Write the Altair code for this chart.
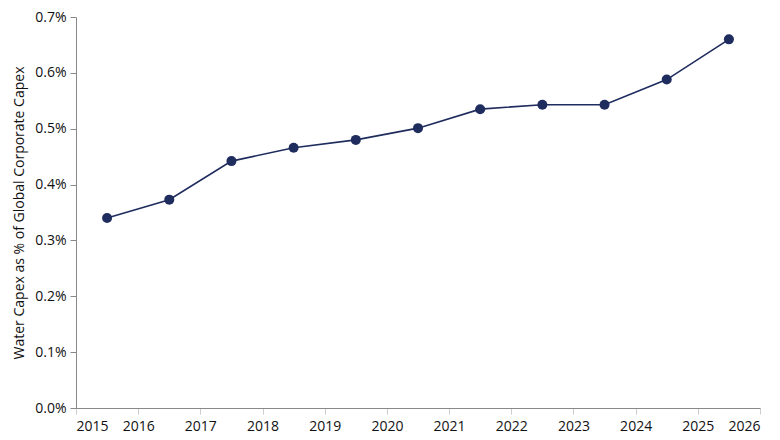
import altair as alt
import pandas as pd

years = [2015.5, 2016.5, 2017.5, 2018.5, 2019.5, 2020.5, 2021.5, 2022.5, 2023.5, 2024.5, 2025.5]
share = [0.00340, 0.00373, 0.00442, 0.00466, 0.00480, 0.00501, 0.00535, 0.00543, 0.00543, 0.00588, 0.00660]
x_ticks = list(range(2015, 2027))
y_ticks = [0, 0.001, 0.002, 0.003, 0.004, 0.005, 0.006, 0.007]

df = pd.DataFrame({"year": years, "share": share})

color = "#1f2c5e"
font = "Open Sans"

x = alt.X("year:Q",
          scale=alt.Scale(domain=[2015, 2026], nice=False, zero=False),
          axis=alt.Axis(values=x_ticks, format="d", title=None, grid=False,
                        labelFontSize=14, labelColor="#111111", labelFont=font,
                        domainColor="#888888", tickColor="#cccccc", tickSize=6,
                        labelPadding=5))
y = alt.Y("share:Q",
          scale=alt.Scale(domain=[0, 0.007], nice=False),
          axis=alt.Axis(values=y_ticks, format=".1%", grid=False,
                        title="Water Capex as % of Global Corporate Capex",
                        titleFontSize=14, titleFont=font, titleFontWeight="normal",
                        titleColor="#111111", titlePadding=8,
                        labelFontSize=14, labelColor="#111111", labelFont=font,
                        domainColor="#888888", tickColor="#888888", tickSize=6,
                        labelPadding=4))

line = alt.Chart(df).mark_line(color=color, strokeWidth=1.6).encode(x=x, y=y)
pts = alt.Chart(df).mark_point(filled=True, color=color, size=100, opacity=1).encode(x=x, y=y)

chart = (line + pts).properties(
    width=684, height=391,
    autosize=alt.AutoSizeParams(type="none"),
    padding={"left": 68, "top": 9, "right": 10, "bottom": 25},
).configure_view(stroke=None)

chart.save("out.html", embed_options={"renderer": "svg", "actions": False})
